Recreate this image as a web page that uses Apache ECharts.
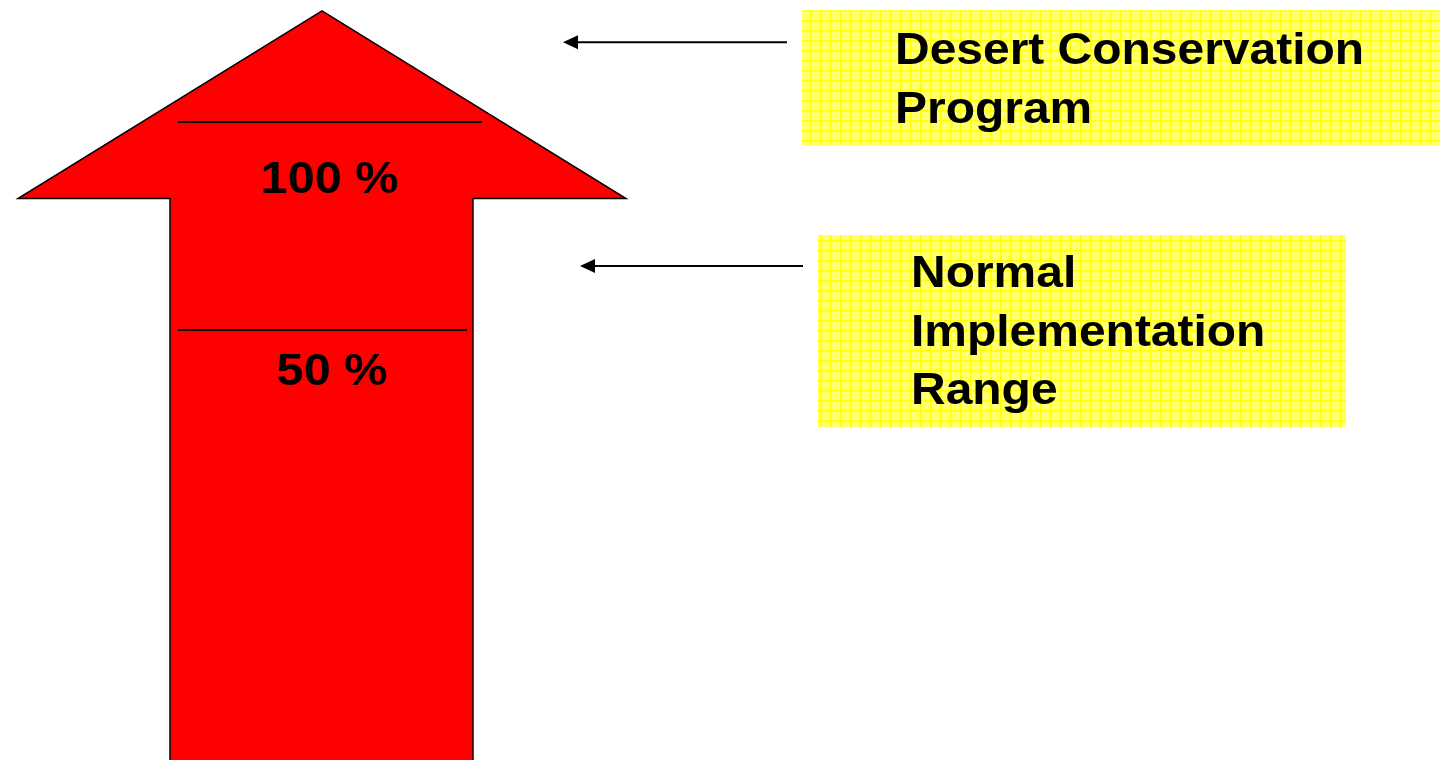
<!DOCTYPE html>
<html><head><meta charset="utf-8">
<script src="https://cdn.jsdelivr.net/npm/echarts@6/dist/echarts.min.js"></script>
<style>html,body{margin:0;padding:0;background:#fff}#c{width:1447px;height:760px}</style>
</head><body><div id="c"></div>
<script>
// ---- data ----
const levels = [100, 50];
const levelLabels = ['100 %', '50 %'];
const calloutLines = [['Desert Conservation', 'Program'], ['Normal', 'Implementation', 'Range']];
const calloutTargets = [119.2, 65.4];
const arrowTip = 126.7;
const arrowHeadBase = 81.6;

// ---- layout / style ----
const Y_MIN = -53.37, Y_MAX = 129.33;
const L = {
  cx: 322, headL: 18, headR: 626, shaftL: 170, shaftR: 473,
  levelLineX: [[178, 482], [178, 467]],
  labelX: [329.5, 332], labelBaselineOff: [75, 59],
  callX: [[787, 563], [803, 580]],
  box: [{l: 802, r: 1440, top: -32, bot: 103, textX: 895}, {l: 818, r: 1346, top: -31, bot: 161, textX: 911}],
  firstBaselineOff: [26, 25], lineGap: 58.5
};
const FONT = 'bold 44px "Liberation Sans", Arial, sans-serif';
const FONT_LBL = 'bold 45px "Liberation Sans", Arial, sans-serif';

function makePattern() {
  const c = document.createElement('canvas'); c.width = 10; c.height = 10;
  const g = c.getContext('2d');
  g.fillStyle = '#ffff88'; g.fillRect(0, 0, 10, 10);
  g.fillStyle = '#ffff70';
  for (let i = 0; i < 10; i++) for (let j = 0; j < 10; j++) if ((i + j) % 2 === 0) g.fillRect(i, j, 1, 1);
  g.fillStyle = '#ffff00'; g.fillRect(0, 0, 10, 1.5); g.fillRect(0, 0, 1.5, 10);
  return c;
}
const pattern = {image: makePattern(), repeat: 'repeat'};

function renderItem(params, api) {
  const P = (x, v) => api.coord([x, v]);
  const children = [];
  const t = P(L.cx, arrowTip), hb = P(0, arrowHeadBase)[1], bot = P(0, Y_MIN)[1] + 10;
  children.push({
    type: 'polygon',
    shape: {points: [t, [L.headR, hb], [L.shaftR, hb], [L.shaftR, bot], [L.shaftL, bot], [L.shaftL, hb], [L.headL, hb]]},
    style: {fill: '#ff0000', stroke: '#000', lineWidth: 1.5, lineJoin: 'miter'}
  });
  levels.forEach((v, i) => {
    const y = P(0, v)[1];
    children.push({type: 'line', shape: {x1: L.levelLineX[i][0], y1: y, x2: L.levelLineX[i][1], y2: y},
      style: {stroke: '#000', lineWidth: 2}});
    const by = y + L.labelBaselineOff[i];
    children.push({type: 'text', x: L.labelX[i], y: by - 0.36 * 45, scaleX: 1.08, originX: 0,
      style: {text: levelLabels[i], font: FONT_LBL, fill: '#000', align: 'center', verticalAlign: 'middle'}});
  });
  calloutTargets.forEach((v, i) => {
    const y = P(0, v)[1];
    const b = L.box[i];
    children.push({type: 'rect', shape: {x: b.l, y: y + b.top, width: b.r - b.l, height: b.bot - b.top},
      style: {fill: pattern}});
    const [x1, x2] = L.callX[i];
    children.push({type: 'line', shape: {x1: x1, y1: y, x2: x2 + 10, y2: y}, style: {stroke: '#000', lineWidth: 2}});
    children.push({type: 'polygon', shape: {points: [[x2, y], [x2 + 15, y - 7], [x2 + 15, y + 7]]}, style: {fill: '#000'}});
    calloutLines[i].forEach((txt, k) => {
      const by = y + L.firstBaselineOff[i] + k * L.lineGap;
      children.push({type: 'text', x: b.textX, y: by - 0.36 * 44, scaleX: 1.09, originX: 0,
        style: {text: txt, font: FONT, fill: '#000', align: 'left', verticalAlign: 'middle'}});
    });
  });
  return {type: 'group', children};
}

const chart = echarts.init(document.getElementById('c'), null, {renderer: 'canvas'});
chart.setOption({
  animation: false,
  backgroundColor: '#ffffff',
  grid: {left: 0, right: 0, top: 0, bottom: 0},
  xAxis: {type: 'value', min: 0, max: 1447, show: false},
  yAxis: {type: 'value', min: Y_MIN, max: Y_MAX, show: false},
  series: [{type: 'custom', renderItem, data: [[0, 0]], clip: false, silent: true}]
});
</script></body></html>
